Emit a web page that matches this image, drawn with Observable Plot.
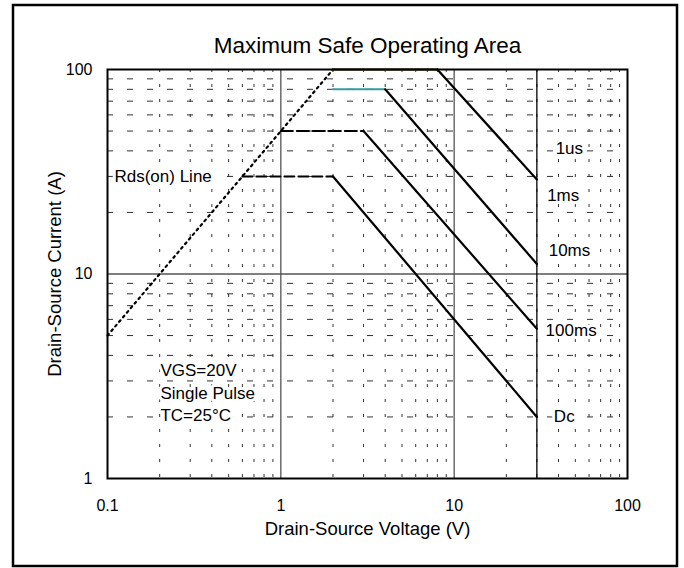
<!DOCTYPE html>
<html>
<head>
<meta charset="utf-8">
<script src="https://cdn.jsdelivr.net/npm/d3@7"></script>
<script src="https://cdn.jsdelivr.net/npm/@observablehq/plot@0.6"></script>
<style>
  html, body { margin: 0; padding: 0; background: white; }
  svg { display: block; }
</style>
</head>
<body>
<div id="chart"></div>
<script>
// ---- data ----
const TITLE = "Maximum Safe Operating Area";
const X_LABEL = "Drain-Source Voltage (V)";
const Y_LABEL = "Drain-Source Current (A)";
const X_TICKS = [0.1, 1, 10, 100];
const Y_TICKS = [1, 10, 100];
const X_MINOR = [0.2,0.3,0.4,0.5,0.6,0.7,0.8,0.9, 2,3,4,5,6,7,8,9, 20,30,40,50,60,70,80,90];
const Y_MINOR = [2,3,4,5,6,7,8,9, 20,30,40,50,60,70,80,90];
const X_MAJOR = [1, 10];
const X_LIMIT = [30];
const Y_MAJOR = [10];

// Rds(on) limit line (V, A)
const rdsLine = [{v: 0.1, i: 5}, {v: 2, i: 100}];
// current-limited plateaus (V, A)
const plateauDC = [{v: 0.6, i: 30}, {v: 2, i: 30}];
const plateau100ms = [{v: 1, i: 50}, {v: 3, i: 50}];
const plateau10ms = [{v: 2, i: 80}, {v: 4, i: 80}];
const plateau1us = [{v: 2, i: 100}, {v: 8, i: 100}];
// power-limited diagonals (V, A)
const diagDC = [{v: 2, i: 30}, {v: 30, i: 2}];
const diag100ms = [{v: 3, i: 50}, {v: 30, i: 5.4}];
const diag10ms = [{v: 4, i: 80}, {v: 30, i: 11.2}];
const diag1us = [{v: 8, i: 100}, {v: 30, i: 29}];

// curve labels
const curveLabels = [
  {v: 38.5, i: 41, text: "1us"},
  {v: 34.4, i: 24.2, text: "1ms"},
  {v: 35.1, i: 13.0, text: "10ms"},
  {v: 33.7, i: 5.3, text: "100ms"},
  {v: 37.6, i: 2.01, text: "Dc"},
  {v: 0.1097, i: 30, text: "Rds(on) Line"}
];
const conditionLabels = [
  {v: 0.202, i: 3.37, text: "VGS=20V"},
  {v: 0.202, i: 2.61, text: "Single Pulse"},
  {v: 0.202, i: 2.03, text: "TC=25°C"}
];

const FONT = "'Liberation Sans', Arial, Helvetica, sans-serif";

const chart = Plot.plot({
  width: 684,
  height: 568,
  marginLeft: 107,
  marginRight: 57,
  marginTop: 69,
  marginBottom: 90,
  style: {fontFamily: FONT, fontSize: "16px", background: "white", color: "black"},
  x: {type: "log", domain: [0.1, 100]},
  y: {type: "log", domain: [1, 100]},
  marks: [
    // minor grid
    Plot.ruleX(X_MINOR, {stroke: "#333", strokeWidth: 1, strokeDasharray: "3,12"}),
    Plot.ruleY(Y_MINOR, {stroke: "#333", strokeWidth: 1, strokeDasharray: "6,14"}),
    // major grid
    Plot.ruleX(X_MAJOR, {stroke: "#555", strokeWidth: 1.3}),
    Plot.ruleY(Y_MAJOR, {stroke: "#555", strokeWidth: 1.3}),
    Plot.ruleX(X_LIMIT, {stroke: "black", strokeWidth: 1.3}),
    // labels with white background
    Plot.text(curveLabels, {x: "v", y: "i", text: "text", textAnchor: "start", fontSize: 17, fill: "black", stroke: "white", strokeWidth: 6}),
    Plot.text(conditionLabels, {x: "v", y: "i", text: "text", textAnchor: "start", fontSize: 17, fill: "black", stroke: "white", strokeWidth: 6}),
    // Rds(on) line
    Plot.line(rdsLine, {x: "v", y: "i", stroke: "black", strokeWidth: 2.2, strokeDasharray: "2,4"}),
    // plateaus
    Plot.line(plateauDC, {x: "v", y: "i", stroke: "black", strokeWidth: 2, strokeDasharray: "10,4"}),
    Plot.line(plateau100ms, {x: "v", y: "i", stroke: "black", strokeWidth: 2, strokeDasharray: "12,4"}),
    Plot.line(plateau10ms, {x: "v", y: "i", stroke: "#3a9a9a", strokeWidth: 2}),
    Plot.line(plateau1us, {x: "v", y: "i", stroke: "#4f4a28", strokeWidth: 2.5}),
    // diagonals
    Plot.line(diagDC, {x: "v", y: "i", stroke: "black", strokeWidth: 2.2}),
    Plot.line(diag100ms, {x: "v", y: "i", stroke: "black", strokeWidth: 2.2}),
    Plot.line(diag10ms, {x: "v", y: "i", stroke: "black", strokeWidth: 2.2}),
    Plot.line(diag1us, {x: "v", y: "i", stroke: "black", strokeWidth: 2.2}),
    // frame
    Plot.frame({stroke: "black", strokeWidth: 2}),
    // axes
    Plot.axisX(X_TICKS, {tickSize: 0, tickPadding: 21, tickFormat: d => String(d), label: null, fontSize: 16}),
    Plot.axisY(Y_TICKS, {tickSize: 0, tickPadding: 15, tickFormat: d => String(d), label: null, fontSize: 16}),
    // titles
    Plot.text([TITLE], {frameAnchor: "top", dy: -24, textAnchor: "middle", lineAnchor: "middle", text: d => d, fontSize: 22.5, fill: "black"}),
    Plot.text([X_LABEL], {frameAnchor: "bottom", dy: 51, textAnchor: "middle", lineAnchor: "middle", text: d => d, fontSize: 18.5, fill: "black"}),
    Plot.text([Y_LABEL], {frameAnchor: "left", dx: -52, rotate: -90, textAnchor: "middle", lineAnchor: "middle", text: d => d, fontSize: 18.5, fill: "black"})
  ]
});

d3.select(chart).append("rect")
  .attr("x", 13).attr("y", 5)
  .attr("width", 664).attr("height", 561)
  .attr("fill", "none").attr("stroke", "black").attr("stroke-width", 2.5);

document.getElementById("chart").appendChild(chart);
</script>
</body>
</html>
